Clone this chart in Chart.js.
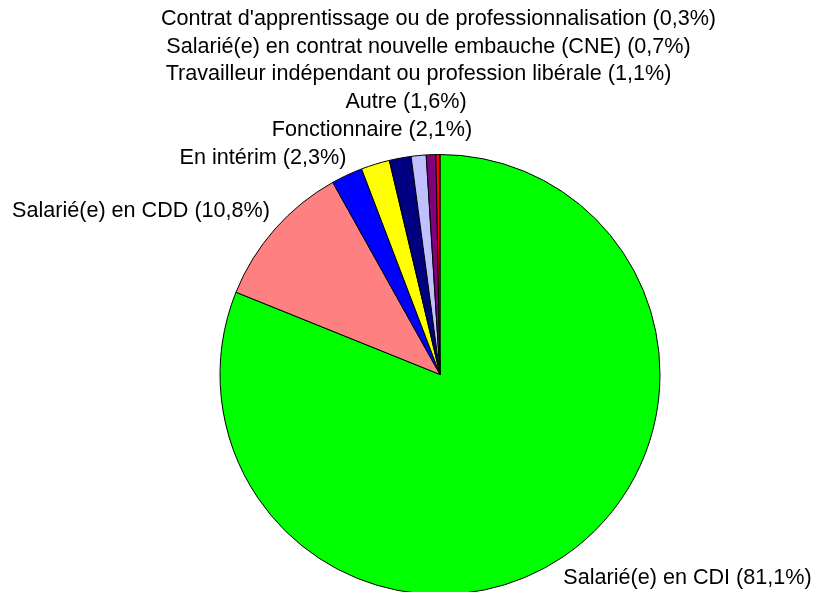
<!DOCTYPE html>
<html>
<head>
<meta charset="utf-8">
<script src="https://cdn.jsdelivr.net/npm/chart.js@4/dist/chart.umd.min.js"></script>
<style>
    html, body { margin: 0; padding: 0; overflow: hidden; background: #fff; }
    #wrap { width: 815px; height: 596px; position: relative; }
</style>
</head>
<body>
<div id="wrap"><canvas id="pieChart"></canvas></div>
<script>
var categories = [
    'Salarié(e) en CDI',
    'Salarié(e) en CDD',
    'En intérim',
    'Fonctionnaire',
    'Autre',
    'Travailleur indépendant ou profession libérale',
    'Salarié(e) en contrat nouvelle embauche (CNE)',
    "Contrat d'apprentissage ou de professionnalisation"
];
var percents = [81.1, 10.8, 2.3, 2.1, 1.6, 1.1, 0.7, 0.3];
var colors = ['#00ff00', '#ff8080', '#0000ff', '#ffff00', '#000080', '#c0c0ff', '#800080', '#ff0000'];

// where each label's text is centred (layout only)
var labelSpots = [
    [687.5, 578], [141, 211], [263, 158], [372, 130],
    [406, 102], [418.5, 74], [428.5, 47], [438.5, 19]
];

function labelText(i) {
    return categories[i] + ' (' + percents[i].toFixed(1).replace('.', ',') + '%)';
}

var outsideLabels = {
    id: 'outsideLabels',
    afterDraw: function(chart) {
        var ctx = chart.ctx;
        ctx.save();
        ctx.font = '21.6px "Liberation Sans", Arial, sans-serif';
        ctx.fillStyle = '#000';
        ctx.textAlign = 'center';
        ctx.textBaseline = 'middle';
        chart.getDatasetMeta(0).data.forEach(function(arc, i) {
            ctx.fillText(labelText(i), labelSpots[i][0], labelSpots[i][1]);
        });
        ctx.restore();
    }
};

var ctx = document.getElementById('pieChart').getContext('2d');
var pieChart = new Chart(ctx, {
    type: 'pie',
    data: {
        labels: categories,
        datasets: [{
            data: percents,
            backgroundColor: colors,
            borderColor: '#000',
            borderWidth: 1
        }]
    },
    options: {
        responsive: true,
        maintainAspectRatio: false,
        animation: false,
        layout: {
            padding: { top: 154, bottom: 1, left: 65, right: 0 }
        },
        plugins: {
            legend: { display: false },
            tooltip: { enabled: false }
        }
    },
    plugins: [outsideLabels]
});
</script>
</body>
</html>
